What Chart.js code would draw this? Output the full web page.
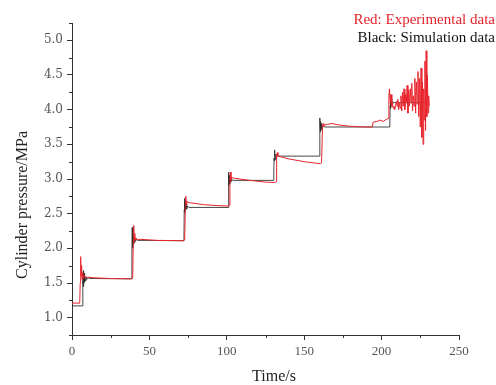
<!DOCTYPE html>
<html>
<head>
<meta charset="utf-8">
<script src="https://cdn.jsdelivr.net/npm/chart.js@4/dist/chart.umd.min.js"></script>
<style>
  html, body { margin: 0; padding: 0; background: #fff; }
  #wrap { width: 496px; height: 385px; position: relative; }
</style>
</head>
<body>
<div id="wrap"><canvas id="pressureChart"></canvas></div>
<script>
'use strict';

// data (time in s, pressure in MPa)
const expTime = [
  0, 5.0, 5.3, 5.6, 5.9, 6.2, 6.5, 6.9, 7.3, 7.8, 8.5, 10, 14, 25, 38,
  39.2, 39.6, 39.9, 40.2, 40.5, 40.9, 41.4, 42.2, 44, 55, 72,
  72.8, 73.2, 73.5, 73.9, 74.4, 75, 77, 85, 95, 101,
  101.6, 102, 102.3, 102.7, 103.2, 105, 115, 125, 131.3,
  131.8, 132.2, 132.6, 133, 135, 140, 150, 160.5,
  161.2, 161.8, 162.2, 162.7, 165, 168, 172, 180, 190, 194, 194.5, 197, 199, 201, 203, 204.3,
  204.7, 205.1, 205.6, 206.1, 206.6, 207, 207.5, 208, 208.5, 209, 209.5, 210, 210.5, 211, 211.5,
  212, 212.5, 213, 213.5, 214, 214.5, 215, 215.5, 216, 216.5, 217, 217.5, 218, 218.5, 219, 219.5,
  220, 220.5, 221, 221.5, 222, 222.5, 223, 223.5, 224, 224.5, 225, 225.5, 226, 226.4, 226.8,
  227.2, 227.6, 228, 228.4, 228.8, 229.2, 229.6, 230, 230.4, 230.8
];
const expPressure = [
  1.21, 1.21, 1.5, 1.88, 1.6, 1.75, 1.55, 1.65, 1.57, 1.61, 1.58, 1.585, 1.575, 1.565, 1.56,
  1.57, 2.1, 2.33, 2.1, 2.22, 2.12, 2.15, 2.12, 2.13, 2.115, 2.11,
  2.12, 2.6, 2.75, 2.62, 2.68, 2.66, 2.655, 2.63, 2.615, 2.61,
  2.62, 2.97, 3.1, 2.98, 3.02, 3.01, 2.98, 2.955, 2.95,
  2.96, 3.33, 3.38, 3.33, 3.32, 3.29, 3.25, 3.22,
  3.23, 3.72, 3.8, 3.77, 3.79, 3.8, 3.78, 3.76, 3.75, 3.75, 3.82, 3.83, 3.85, 3.83, 3.86, 3.87,
  4.2, 4.3, 4.1, 4.22, 4.05, 4.1, 4.02, 4.05, 4.0, 4.05, 4.12, 4.05, 4.15, 4.0, 4.1,
  4.02, 4.2, 3.98, 4.25, 4.05, 4.3, 4.0, 4.22, 4.1, 4.35, 3.95, 4.28, 4.05, 4.3, 4.1, 4.38,
  3.98, 4.2, 4.05, 4.45, 3.95, 4.4, 4.08, 4.55, 3.9, 4.45, 3.75, 4.6, 3.6, 4.4, 3.5,
  4.3, 3.85, 4.7, 3.7, 4.85, 3.9, 4.5, 3.95, 4.2, 4.05
];

const simTime = [
  0, 6.8, 7.0, 7.2, 7.4, 7.6, 7.8, 8.0, 8.3, 8.6, 9.0, 9.5, 10.2, 11.5, 38.5,
  38.7, 38.9, 39.1, 39.3, 39.5, 39.8, 40.1, 40.5, 41, 41.6, 42.5, 72.3,
  72.5, 72.7, 72.9, 73.1, 73.4, 73.7, 74.1, 74.6, 75.5, 100.8,
  101, 101.2, 101.4, 101.6, 101.9, 102.2, 102.6, 103.2, 104, 130.3,
  130.5, 130.7, 130.9, 131.1, 131.4, 131.7, 132.1, 132.7, 133.5, 159.8,
  160, 160.2, 160.4, 160.6, 160.9, 161.2, 161.6, 162.2, 163, 205.3,
  205.5, 205.7, 205.9, 206.1, 206.4, 206.7, 207.1, 207.7, 208.5, 229
];
const simPressure = [
  1.17, 1.17, 1.62, 1.45, 1.68, 1.48, 1.64, 1.51, 1.61, 1.53, 1.59, 1.55, 1.575, 1.565, 1.56,
  2.0, 2.3, 2.0, 2.22, 2.05, 2.18, 2.08, 2.15, 2.1, 2.13, 2.115, 2.11,
  2.55, 2.72, 2.52, 2.68, 2.55, 2.64, 2.57, 2.61, 2.59, 2.59,
  2.95, 3.1, 2.9, 3.05, 2.93, 3.02, 2.96, 2.99, 2.98, 2.98,
  3.3, 3.42, 3.26, 3.38, 3.28, 3.36, 3.31, 3.34, 3.33, 3.33,
  3.7, 3.88, 3.68, 3.83, 3.71, 3.8, 3.73, 3.77, 3.75, 3.75,
  4.05, 4.2, 4.02, 4.16, 4.05, 4.13, 4.08, 4.11, 4.1, 4.1
];

const xMajor = [0, 50, 100, 150, 200, 250];
const yMajor = [1.0, 1.5, 2.0, 2.5, 3.0, 3.5, 4.0, 4.5, 5.0];
const legendLines = ['Red: Experimental data', 'Black: Simulation data'];
const xTitle = 'Time/s';
const yTitle = 'Cylinder pressure/MPa';

function toPoints(xs, ys) {
  const pts = [];
  for (let i = 0; i < xs.length; i++) {
    pts.push({ x: xs[i], y: ys[i] });
  }
  return pts;
}

const serif = '"Liberation Serif", "DejaVu Serif", serif';
const axisColor = '#333';

// minor ticks, axis titles and the legend text
const extrasPlugin = {
  id: 'extras',
  afterDraw(chart) {
    const ctx = chart.ctx;
    const xs = chart.scales.x;
    const ys = chart.scales.y;
    const area = chart.chartArea;
    ctx.save();
    ctx.strokeStyle = axisColor;
    ctx.lineWidth = 1;
    ctx.beginPath();
    for (let v = 25; v < 250; v += 50) {
      const px = Math.round(xs.getPixelForValue(v)) + 0.5;
      ctx.moveTo(px, area.bottom);
      ctx.lineTo(px, area.bottom + 3);
    }
    for (let v = 0.75; v <= 5.25; v += 0.5) {
      const py = Math.round(ys.getPixelForValue(v)) + 0.5;
      ctx.moveTo(area.left, py);
      ctx.lineTo(area.left - 3, py);
    }
    ctx.stroke();

    ctx.textBaseline = 'middle';
    ctx.font = '15px ' + serif;
    ctx.textAlign = 'right';
    ctx.fillStyle = '#e3232b';
    ctx.fillText(legendLines[0], 495, 20);
    ctx.fillStyle = '#111';
    ctx.fillText(legendLines[1], 495, 38);

    ctx.font = '16px ' + serif;
    ctx.textAlign = 'center';
    ctx.fillStyle = '#222';
    ctx.fillText(xTitle, 274, 377);
    ctx.translate(23, 205);
    ctx.rotate(-Math.PI / 2);
    ctx.fillText(yTitle, 0, 0);
    ctx.restore();
  }
};

const ctx = document.getElementById('pressureChart').getContext('2d');
const chart = new Chart(ctx, {
  type: 'line',
  data: {
    datasets: [{
      label: 'Experimental data',
      data: toPoints(expTime, expPressure),
      borderColor: '#e8242c',
      borderWidth: 1,
      pointRadius: 0,
      tension: 0
    },
    {
      label: 'Simulation data',
      data: toPoints(simTime, simPressure),
      borderColor: 'rgba(40,40,40,0.85)',
      borderWidth: 1,
      pointRadius: 0,
      tension: 0
    }]
  },
  options: {
    responsive: true,
    maintainAspectRatio: false,
    animation: false,
    layout: { padding: { top: 23, right: 37, left: 0, bottom: 0 } },
    plugins: {
      legend: { display: false },
      tooltip: { enabled: false }
    },
    scales: {
      x: {
        type: 'linear',
        min: 0,
        max: 250,
        afterBuildTicks(scale) {
          scale.ticks = xMajor.map(v => ({ value: v }));
        },
        afterFit(scale) { scale.height = 50; },
        border: { display: true, color: axisColor, width: 1 },
        grid: { drawOnChartArea: false, drawTicks: true, tickLength: 5, color: axisColor },
        ticks: {
          color: '#555',
          font: { family: serif, size: 13 },
          padding: 4,
          maxRotation: 0
        }
      },
      y: {
        type: 'linear',
        min: 0.75,
        max: 5.25,
        afterBuildTicks(scale) {
          scale.ticks = yMajor.map(v => ({ value: v }));
        },
        afterFit(scale) { scale.width = 72; },
        border: { display: true, color: axisColor, width: 1 },
        grid: { drawOnChartArea: false, drawTicks: true, tickLength: 5, color: axisColor },
        ticks: {
          color: '#555',
          font: { family: '"DejaVu Serif", serif', size: 12 },
          padding: 4,
          callback: v => v.toFixed(1)
        }
      }
    }
  },
  plugins: [extrasPlugin]
});
</script>
</body>
</html>
